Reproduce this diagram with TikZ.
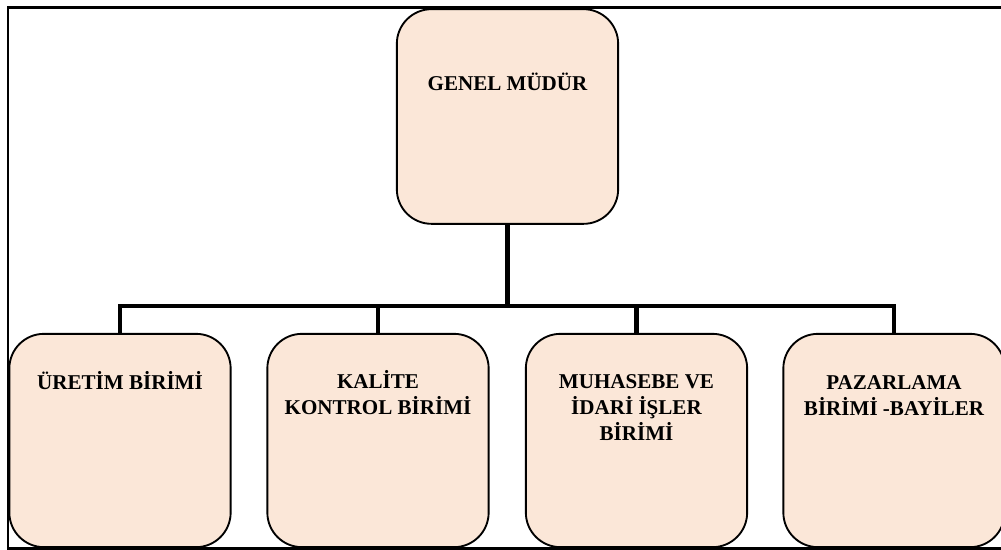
\documentclass[tikz,border=0pt]{standalone}
\usepackage{fontspec}
\setmainfont{Liberation Serif}
\definecolor{peach}{HTML}{FBE7D8}
\begin{document}
\begin{tikzpicture}[x=0.75pt, y=-0.75pt,
	unit/.style={draw, line width=1.4pt, fill=peach, rounded corners=26pt,
		minimum width=166pt, minimum height=160pt, inner sep=0pt},
	title/.style={anchor=base, align=center, inner sep=0pt,
		font=\fontsize{15.8}{19.5}\selectfont\bfseries},
	link/.style={line width=3.6pt},
	frame/.style={line width=1.6pt}]

		\clip (0,0) rectangle (1001,550);
		\draw[frame] (1020,7.5) -- (8,7.5) -- (8,548.5) -- (1020,548.5);

		% boxes
		\node[unit, minimum height=161pt] (gm) at (507.5,116.5) {};
		\node[unit] (u1) at (120,440.5) {};
		\node[unit] (u2) at (378,440.5) {};
		\node[unit] (u3) at (636.5,440.5) {};
		\node[unit] (u4) at (894,440.5) {};

		% texts (base = last line)
		\node[title] (gmt) at (507.5,90) {GENEL MÜDÜR};
		\node[title] (u1t) at (120,389) {ÜRETİM BİRİMİ};
		\node[title] (u2t) at (378,414) {KALİTE\\KONTROL BİRİMİ};
		\node[title] (u3t) at (636.5,440) {MUHASEBE VE\\İDARİ İŞLER\\BİRİMİ};
		\node[title] (u4t) at (894,415) {PAZARLAMA\\BİRİMİ -BAYİLER};

		% connectors
		\coordinate (hub) at (507.5,306);
		\draw[link] (gm.south) -- (hub);
		\draw[link] (u1.north) |- (u4.north |- hub) -- (u4.north);
		\draw[link] (u2.north) -- (u2.north |- hub);
		\draw[link] (u3.north) -- (u3.north |- hub);

	\end{tikzpicture}
\end{document}
